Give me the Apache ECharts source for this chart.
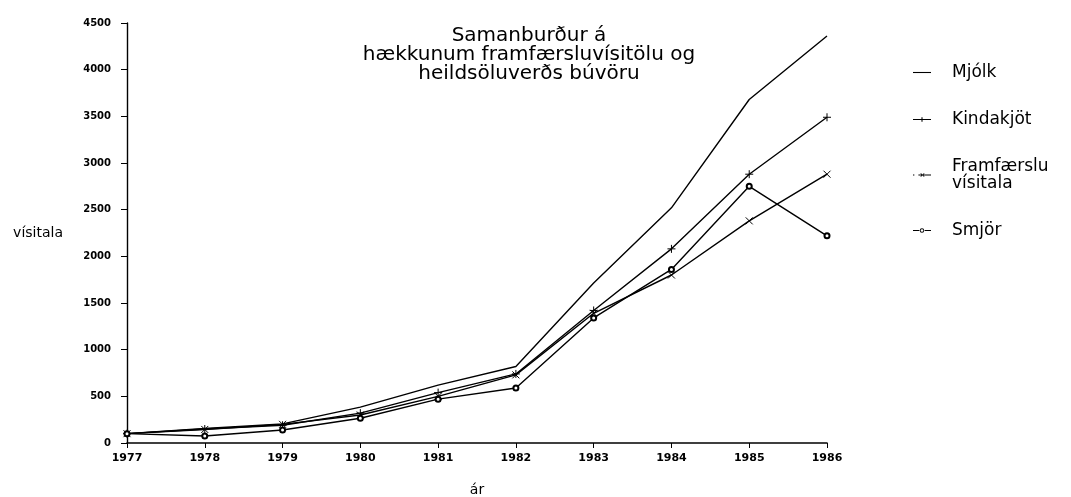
<!DOCTYPE html>
<html>
<head>
<meta charset="utf-8">
<script src="https://cdn.jsdelivr.net/npm/echarts@6/dist/echarts.min.js"></script>
<style>
html,body{margin:0;padding:0;background:#fff;}
#chart{width:1071px;height:497px;}
</style>
</head>
<body>
<div id="chart"></div>
<script>
// data
const years = ['1977','1978','1979','1980','1981','1982','1983','1984','1985','1986'];
const mjolk = [100, 155, 205, 385, 620, 820, 1715, 2520, 3680, 4360];
const kindakjot = [100, 150, 190, 320, 540, 740, 1420, 2080, 2880, 3490];
const framfaersla = [100, 145, 200, 300, 500, 730, 1390, 1800, 2380, 2880];
const smjor = [100, 75, 140, 265, 470, 590, 1340, 1860, 2750, 2220];
const yTicks = [0, 500, 1000, 1500, 2000, 2500, 3000, 3500, 4000, 4500];

const chart = echarts.init(document.getElementById('chart'));

const plus = 'path://M0,5 L10,5 M5,0 L5,10';
const cross = 'path://M0,0 L10,10 M10,0 L0,10';
const font = 'DejaVu Sans';

// legend icons (filled paths)
const icoLine = 'path://M0,4.4 L20,4.4 L20,5.6 L0,5.6 Z';
const icoPlus = 'path://M0,4.4 L20,4.4 L20,5.6 L0,5.6 Z M9.4,2.5 L10.6,2.5 L10.6,7.5 L9.4,7.5 Z';
const icoCross = 'path://M0,4.4 L1.5,4.4 L1.5,5.6 L0,5.6 Z M6,4.4 L20,4.4 L20,5.6 L6,5.6 Z M8,3 L9,3 L13,7 L12,7 Z M12,3 L13,3 L9,7 L8,7 Z';
const icoCirc = 'path://M0,4.4 L7,4.4 L7,5.6 L0,5.6 Z M13,4.4 L20,4.4 L20,5.6 L13,5.6 Z M10,2.5 A2.5,2.5 0 1,1 9.99,2.5 Z M10,3.5 A1.5,1.5 0 1,0 10.01,3.5 Z';

function mk(name, data, symbol, size){
    return {
        name: name,
        type: 'line',
        data: data,
        symbol: symbol,
        symbolSize: size,
        showSymbol: symbol !== 'none',
        lineStyle: {color: '#000', width: 1.4},
        itemStyle: {color: '#000', borderColor: '#000', borderWidth: 1},
        emphasis: {disabled: true}
    };
}

const option = {
    animation: false,
    backgroundColor: '#fff',
    title: {
        text: 'Samanburður á\nhækkunum framfærsluvísitölu og\nheildsöluverðs búvöru',
        left: 524,
        top: 21,
        textAlign: 'center',
        textStyle: {fontFamily: font, fontSize: 20, fontWeight: 'normal', color: '#000', lineHeight: 19}
    },
    legend: {
        orient: 'vertical',
        left: 908,
        top: 59,
        itemWidth: 18,
        itemHeight: 9,
        itemGap: 30,
        itemStyle: {borderWidth: 0},
        lineStyle: {width: 0},
        textStyle: {fontFamily: font, fontSize: 17, color: '#000', lineHeight: 17, padding: [0, 0, 0, 16]},
        data: [
            {name: 'Mjólk', icon: icoLine},
            {name: 'Kindakjöt', icon: icoPlus},
            {name: 'Framfærslu\nvísitala', icon: icoCross},
            {name: 'Smjör', icon: icoCirc}
        ]
    },
    grid: {left: 127, right: 244, top: 23, bottom: 54, outerBoundsMode: 'none'},
    xAxis: {
        type: 'category',
        data: years,
        boundaryGap: false,
        name: 'ár',
        nameLocation: 'middle',
        nameGap: 40,
        nameTextStyle: {fontFamily: font, fontSize: 14, color: '#000'},
        axisLine: {lineStyle: {color: '#000', width: 1.6}},
        axisTick: {inside: false, length: 5, lineStyle: {color: '#000'}},
        axisLabel: {fontFamily: font, fontSize: 11, fontWeight: 'bold', color: '#000', margin: 10}
    },
    yAxis: {
        type: 'value',
        min: yTicks[0],
        max: yTicks[yTicks.length - 1],
        interval: 500,
        name: 'vísitala',
        nameLocation: 'middle',
        nameRotate: 0,
        nameGap: 64,
        nameTextStyle: {fontFamily: font, fontSize: 14, color: '#000'},
        splitLine: {show: false},
        axisLine: {show: true, lineStyle: {color: '#000', width: 1.4}},
        axisTick: {show: true, length: 6, lineStyle: {color: '#000'}},
        axisLabel: {fontFamily: font, fontSize: 10, fontWeight: 'bold', color: '#000', margin: 16,
            formatter: function(v){ return String(v); }}
    },
    series: [
        mk('Mjólk', mjolk, 'none', 0),
        mk('Kindakjöt', kindakjot, plus, 8),
        mk('Framfærslu\nvísitala', framfaersla, cross, 7),
        mk('Smjör', smjor, 'emptyCircle', 5)
    ]
};
chart.setOption(option);
</script>
</body>
</html>
